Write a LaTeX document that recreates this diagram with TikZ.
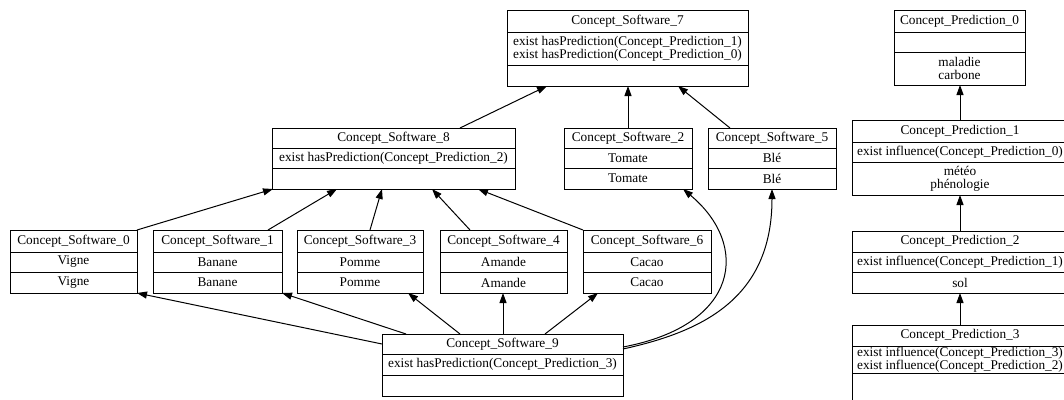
\documentclass[tikz,border=0pt]{standalone}
\usepackage{fontspec}
\setmainfont{Liberation Serif}
\usetikzlibrary{arrows.meta}
\tikzset{
  boxline/.style={draw=black, line width=1pt},
  boxtext/.style={font=\fontsize{13.3}{12.8}\selectfont, inner sep=0pt, align=center},
  tighttext/.style={font=\fontsize{13.3}{10.5}\selectfont},
  edge/.style={line width=1pt, -{Triangle[length=10pt,width=7pt]}},
}
\newcommand\ubox[7]{%
  \node[boxline, inner sep=0pt, outer sep=0pt, anchor=north west,
        minimum width={(#3-#2)*1pt}, minimum height={(#7-#4)*1pt}] (#1) at (#2,#4) {};
  \draw[boxline] (#2,#5) -- (#3,#5) (#2,#6) -- (#3,#6);
  \coordinate (#1-hc) at ({(#2+#3)/2},{(#4+#5)/2});
  \coordinate (#1-ac) at ({(#2+#3)/2},{(#5+#6)/2});
  \coordinate (#1-mc) at ({(#2+#3)/2},{(#6+#7)/2});
}
\newcommand\utext[4]{%
  \node[boxtext] (#1-h) at (#1-hc) {#2};
  \node[boxtext] (#1-a) at (#1-ac) {#3};
  \node[boxtext] (#1-m) at (#1-mc) {#4};
}
\begin{document}
\begin{tikzpicture}[x=1pt,y=-1pt]
\useasboundingbox (0,0) rectangle (1064,399);
\clip (0,0) rectangle (1064,399);
% Software concepts
\ubox{cs7}{507}{748}{10}{32}{65}{86}
\utext{cs7}{Concept\_Software\_7}{exist hasPrediction(Concept\_Prediction\_1)\\exist hasPrediction(Concept\_Prediction\_0)}{}
\ubox{cs8}{272}{515}{128}{148}{168}{189}
\utext{cs8}{Concept\_Software\_8}{exist hasPrediction(Concept\_Prediction\_2)}{}
\ubox{cs2}{564}{692}{128}{148}{168}{189}
\utext{cs2}{Concept\_Software\_2}{Tomate}{Tomate}
\ubox{cs5}{708}{836}{128}{148}{168}{189}
\utext{cs5}{Concept\_Software\_5}{Blé}{Blé}
\ubox{cs0}{10}{137}{230}{252}{272}{293}
\utext{cs0}{Concept\_Software\_0}{Vigne}{Vigne}
\ubox{cs1}{153}{282}{230}{252}{272}{293}
\utext{cs1}{Concept\_Software\_1}{Banane}{Banane}
\ubox{cs3}{297}{423}{230}{252}{272}{293}
\utext{cs3}{Concept\_Software\_3}{Pomme}{Pomme}
\ubox{cs4}{440}{567}{230}{252}{272}{293}
\utext{cs4}{Concept\_Software\_4}{Amande}{Amande}
\ubox{cs6}{583}{711}{230}{252}{272}{293}
\utext{cs6}{Concept\_Software\_6}{Cacao}{Cacao}
\ubox{cs9}{382}{623}{334}{354}{375}{396}
\utext{cs9}{Concept\_Software\_9}{exist hasPrediction(Concept\_Prediction\_3)}{}
% Prediction concepts
\ubox{cp0}{894}{1025}{10}{32}{52}{85}
\utext{cp0}{Concept\_Prediction\_0}{}{maladie\\carbone}
\ubox{cp1}{852}{1068}{120}{142}{162}{195}
\utext{cp1}{Concept\_Prediction\_1}{exist influence(Concept\_Prediction\_0)}{météo\\phénologie}
\ubox{cp2}{852}{1068}{231}{252}{272}{293}
\utext{cp2}{Concept\_Prediction\_2}{exist influence(Concept\_Prediction\_1)}{sol}
\ubox{cp3}{852}{1068}{325}{346}{373}{405}
\utext{cp3}{Concept\_Prediction\_3}{\tikzset{tighttext}\fontsize{13.3}{10.5}\selectfont exist influence(Concept\_Prediction\_3)\\exist influence(Concept\_Prediction\_2)}{}
% Edges
\draw[edge] ([xshift=188pt]cs8.north west) -- ([xshift=40pt]cs7.south west);
\draw[edge] ([xshift=64pt]cs2.north west) -- ([xshift=121pt]cs7.south west);
\draw[edge] ([xshift=22pt]cs5.north west) -- ([xshift=171pt]cs7.south west);
\draw[edge] (cs0.north east) -- ([xshift=1pt]cs8.south west);
\draw[edge] ([xshift=115pt]cs1.north west) -- ([xshift=65pt]cs8.south west);
\draw[edge] ([xshift=73pt]cs3.north west) -- ([xshift=110pt]cs8.south west);
\draw[edge] ([xshift=30pt]cs4.north west) -- ([xshift=160pt]cs8.south west);
\draw[edge] (cs6.north west) -- ([xshift=206pt]cs8.south west);
\draw[edge] ([yshift=-10pt]cs9.north west) -- (cs0.south east);
\draw[edge] ([xshift=24pt]cs9.north west) -- (cs1.south east);
\draw[edge] ([xshift=78pt]cs9.north west) -- ([xshift=111pt]cs3.south west);
\draw[edge] ([xshift=121pt]cs9.north west) -- ([xshift=63pt]cs4.south west);
\draw[edge] ([xshift=163pt]cs9.north west) -- ([xshift=15pt]cs6.south west);
\draw[edge] ([yshift=-13pt]cs9.north east) .. controls (740,325) and (750,245) .. ([xshift=-9pt]cs2.south east);
\draw[edge] ([yshift=-15pt]cs9.north east) .. controls (700,332) and (772,300) .. ([xshift=64pt]cs5.south west);
\draw[edge] ([xshift=108pt]cp1.north west) -- ([xshift=66pt]cp0.south west);
\draw[edge] (cp2.north) -- (cp1.south);
\draw[edge] (cp3.north) -- (cp2.south);
\end{tikzpicture}
\end{document}
